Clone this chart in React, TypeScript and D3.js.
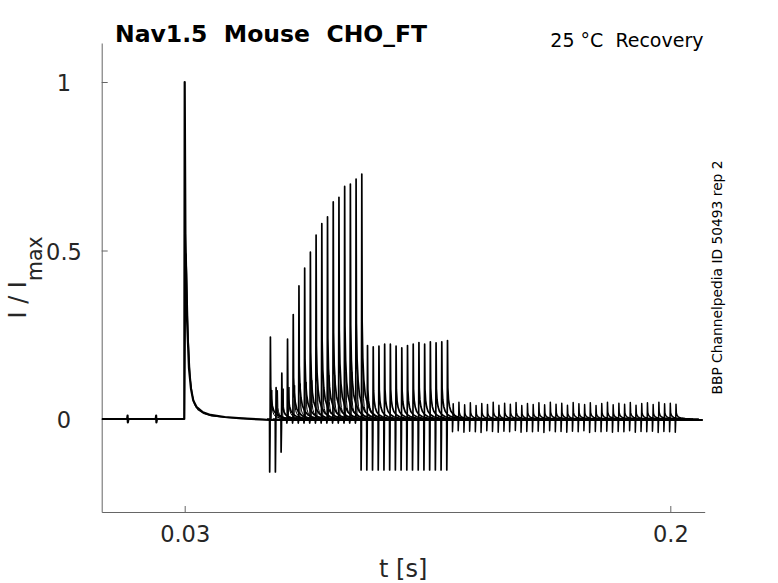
import * as d3 from "d3";
import { useEffect, useRef } from "react";

const WIDTH = 778;
const HEIGHT = 583;

// axis ticks
const xTicks = [0.03, 0.2];
const yTicks = [0, 0.5, 1];

// onset of the test pulse in each sweep (ms)
const testOnsetsMs = [
  60, 62, 64, 66, 68, 70, 72, 74, 76, 78, 80, 82, 84, 86, 88, 90, 92, 94, 96,
  98, 100, 102, 104, 106, 108, 110, 112, 114, 116, 118, 120, 122, 124, 126, 128,
  130, 132, 134, 136, 138, 140, 142, 144, 146, 148, 150, 152, 154, 156, 158,
  160, 162, 164, 166, 168, 170, 172, 174, 176, 178, 180, 182, 184, 186, 188,
  190, 192, 194, 196, 198, 200, 202,
];

// normalised peak current of each test pulse
const testPeaks = [
  0.243, 0.093, 0.136, 0.237, 0.31, 0.395, 0.448, 0.495, 0.546, 0.58, 0.6,
  0.644, 0.658, 0.69, 0.697, 0.712, 0.727,
  0.218, 0.214, 0.216, 0.222, 0.222, 0.216, 0.211, 0.218, 0.222, 0.227, 0.222,
  0.229, 0.226, 0.229, 0.233,
  0.045, 0.05, 0.042, 0.048, 0.04, 0.046, 0.043, 0.05, 0.041, 0.047, 0.044,
  0.049, 0.04, 0.046, 0.043, 0.048, 0.042, 0.05, 0.044, 0.047, 0.041, 0.049,
  0.045, 0.043, 0.048, 0.04, 0.046, 0.05, 0.042, 0.047, 0.044, 0.049, 0.041,
  0.046, 0.048, 0.043, 0.05, 0.045, 0.047, 0.044,
];

// negative artefact just before each test peak
const testDips = [
  -0.157, -0.157, -0.098, -0.012, -0.012, -0.012, -0.012, -0.012, -0.012,
  -0.012, -0.012, -0.012, -0.012, -0.012, -0.012, -0.012,
  -0.151, -0.151, -0.151, -0.151, -0.151, -0.151, -0.151, -0.151, -0.151,
  -0.151, -0.151, -0.151, -0.151, -0.151, -0.151, -0.151,
  -0.038, -0.035, -0.039, -0.036, -0.038, -0.04, -0.035, -0.037, -0.039,
  -0.036, -0.038, -0.034, -0.039, -0.037, -0.038, -0.036, -0.04, -0.035,
  -0.038, -0.037, -0.039, -0.036, -0.038, -0.035, -0.04, -0.037, -0.038,
  -0.036, -0.039, -0.037, -0.038, -0.035, -0.039, -0.037, -0.038, -0.036,
  -0.04, -0.037, -0.038, -0.039,
];

// smaller companion peaks next to the first recovering sweeps
const echoPeaks = [
  0.086, 0.085, 0.09, 0.095, 0.1, 0.105, 0.11, 0.115, 0.12, 0.125, 0.13, 0.13,
  0.135, 0.14, 0.14, 0.145, 0.15,
];

// prepulse current
const prepulseOnsetMs = 30;
const prepulsePeak = 1;
const secondPrepulsePeak = 0.49;
const artifactTimesMs = [10, 20];
const artifactSize = 0.01;

// decay templates: [ms after peak, fraction of peak]
const prepulseDecay: [number, number][] = [
  [0.25, 0.55],
  [0.8, 0.3],
  [1.5, 0.15],
  [2.2, 0.09],
  [3, 0.055],
  [4.2, 0.035],
  [6.4, 0.02],
  [9, 0.012],
  [14, 0.006],
  [20, 0.002],
  [30, -0.003],
];
const testDecay: [number, number][] = [
  [0.12, 0.4],
  [0.35, 0.25],
  [0.7, 0.16],
  [1.2, 0.1],
  [2, 0.06],
  [3.2, 0.03],
  [5, 0.012],
  [8, 0],
];

const traceStartMs = 1;
const traceEndMs = 211.4;

type Pt = [number, number];

export default function App() {
  const svgRef = useRef<SVGSVGElement>(null);

  useEffect(() => {
    if (!svgRef.current) return;
    const svg = d3.select(svgRef.current);
    svg.selectAll("*").remove();

    // plot area
    const left = 101.7;
    const right = 704.7;
    const top = 43;
    const bottom = 512;

    const x0 = d3.scaleLinear().domain([0.03, 0.2]).range([184.7, 670.3]);
    const xScale = d3
      .scaleLinear()
      .domain([x0.invert(left), x0.invert(right)])
      .range([left, right]);
    const y0 = d3.scaleLinear().domain([0, 1]).range([419, 82]);
    const yScale = d3
      .scaleLinear()
      .domain([y0.invert(bottom), y0.invert(top)])
      .range([bottom, top]);

    const line = d3
      .line<Pt>()
      .x((d) => xScale(d[0] / 1000))
      .y((d) => yScale(d[1]));

    const font = "DejaVu Sans, Verdana, sans-serif";
    const axisColor = "#666";
    const textColor = "#262626";

    // axes
    const xAxis = svg
      .append("g")
      .attr("transform", `translate(0,${bottom})`)
      .call(
        d3
          .axisBottom(xScale)
          .tickValues(xTicks)
          .tickSizeInner(-6)
          .tickSizeOuter(0)
          .tickFormat((d) => String(d)),
      );
    xAxis.select(".domain").attr("stroke", axisColor);
    xAxis.selectAll(".tick line").attr("stroke", axisColor);
    xAxis
      .selectAll(".tick text")
      .attr("y", 30)
      .attr("dy", 0)
      .attr("fill", textColor)
      .style("font-family", font)
      .style("font-size", "22.5px");

    const yAxis = svg
      .append("g")
      .attr("transform", `translate(${left},0)`)
      .call(
        d3
          .axisLeft(yScale)
          .tickValues(yTicks)
          .tickSizeInner(-6)
          .tickSizeOuter(0)
          .tickFormat((d) => String(d)),
      );
    yAxis.select(".domain").attr("stroke", axisColor);
    yAxis.selectAll(".tick line").attr("stroke", axisColor);
    yAxis
      .selectAll(".tick text")
      .attr("x", 64 - left)
      .attr("dy", 8.5)
      .attr("text-anchor", "middle")
      .attr("fill", textColor)
      .style("font-family", font)
      .style("font-size", "22.5px");

    const traces = svg
      .append("g")
      .attr("fill", "none")
      .attr("stroke", "#000")
      .attr("stroke-linejoin", "round");

    // main sweep: baseline, artefacts and prepulse
    const main: Pt[] = [[traceStartMs, 0]];
    artifactTimesMs.forEach((t) => {
      main.push(
        [t - 0.15, 0],
        [t, artifactSize],
        [t + 0.1, -artifactSize],
        [t + 0.3, 0],
      );
    });
    main.push([prepulseOnsetMs - 0.15, 0], [prepulseOnsetMs, prepulsePeak]);
    prepulseDecay.forEach(([dt, f]) =>
      main.push([prepulseOnsetMs + dt, prepulsePeak * f]),
    );
    main.push([traceEndMs, -0.003]);
    traces
      .append("path")
      .attr("d", line(main))
      .attr("stroke-width", 2.2);

    // a second prepulse trace with lower peak
    const second: Pt[] = [
      [prepulseOnsetMs - 0.1, 0],
      [prepulseOnsetMs + 0.45, secondPrepulsePeak],
    ];
    prepulseDecay.forEach(([dt, f]) =>
      second.push([prepulseOnsetMs + 0.45 + dt, secondPrepulsePeak * f * 1.6]),
    );
    traces
      .append("path")
      .attr("d", line(second))
      .attr("stroke-width", 1.2);

    // test pulses
    testOnsetsMs.forEach((on, i) => {
      const peak = testPeaks[i];
      const dip = testDips[i];
      const pts: Pt[] = [
        [on - 1.2, 0],
        [on - 0.3, 0],
        [on - 0.25, dip],
        [on - 0.12, dip * 0.3],
        [on, peak],
      ];
      testDecay.forEach(([dt, f]) => pts.push([on + dt, peak * f]));
      traces
        .append("path")
        .attr("d", line(pts))
        .attr("stroke-width", i < 32 ? 1.7 : 1.5);

      if (i < echoPeaks.length) {
        const e = echoPeaks[i];
        const ep: Pt[] = [[on + 0.3, 0], [on + 0.5, e]];
        testDecay.forEach(([dt, f]) => ep.push([on + 0.5 + dt, e * f]));
        traces
          .append("path")
          .attr("d", line(ep))
          .attr("stroke-width", 1);
      }
    });

    // titles and labels
    svg
      .append("text")
      .attr("x", 115)
      .attr("y", 42.3)
      .attr("fill", "#000")
      .style("font-family", font)
      .style("font-weight", "bold")
      .style("font-size", "23.5px")
      .style("white-space", "pre")
      .text("Nav1.5  Mouse  CHO_FT");

    svg
      .append("text")
      .attr("x", 703.5)
      .attr("y", 46.7)
      .attr("text-anchor", "end")
      .attr("fill", "#000")
      .style("font-family", font)
      .style("font-size", "19px")
      .style("white-space", "pre")
      .text("25 °C  Recovery");

    svg
      .append("text")
      .attr("transform", "translate(722,277.5) rotate(-90)")
      .attr("text-anchor", "middle")
      .attr("fill", "#000")
      .style("font-family", font)
      .style("font-size", "13.8px")
      .text("BBP Channelpedia ID 50493 rep 2");

    svg
      .append("text")
      .attr("x", (left + right) / 2)
      .attr("y", 577)
      .attr("text-anchor", "middle")
      .attr("fill", textColor)
      .style("font-family", font)
      .style("font-size", "24px")
      .text("t [s]");

    const yLabel = svg
      .append("text")
      .attr("transform", "translate(25.5,277.5) rotate(-90)")
      .attr("text-anchor", "middle")
      .attr("fill", textColor)
      .style("font-family", font)
      .style("font-size", "24px")
      .style("white-space", "pre");
    yLabel.append("tspan").text("I / I");
    yLabel
      .append("tspan")
      .attr("dy", 16)
      .style("font-size", "20.5px")
      .text("max");
  }, []);

  return (
    <svg
      ref={svgRef}
      width={WIDTH}
      height={HEIGHT}
      style={{ position: "absolute", left: 0, top: 0, background: "#fff" }}
    />
  );
}
